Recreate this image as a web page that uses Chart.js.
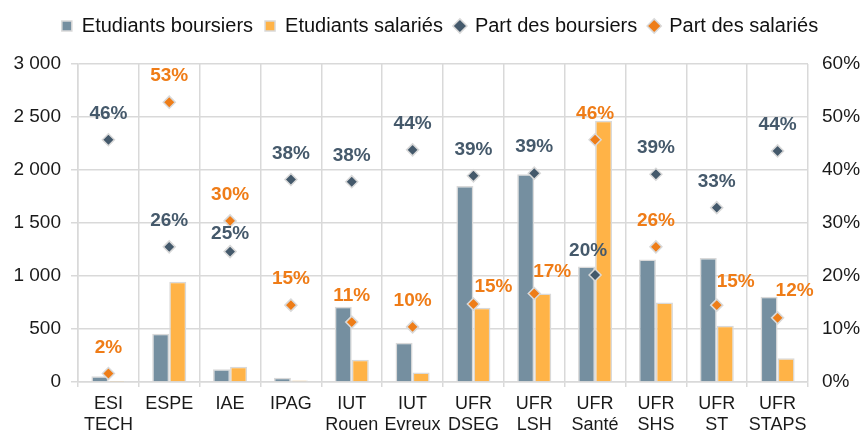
<!DOCTYPE html>
<html>
<head>
<meta charset="utf-8">
<script src="https://cdn.jsdelivr.net/npm/chart.js@4.4.0/dist/chart.umd.min.js"></script>
<style>
  html, body { margin: 0; padding: 0; background: #fff; }
  #wrap { width: 863px; height: 431px; }
</style>
</head>
<body>
<div id="wrap"><canvas id="graph"></canvas></div>
<script>
// values
const categories = [['ESI', 'TECH'], 'ESPE', 'IAE', 'IPAG', ['IUT', 'Rouen'], ['IUT', 'Evreux'],
    ['UFR', 'DSEG'], ['UFR', 'LSH'], ['UFR', 'Santé'], ['UFR', 'SHS'], ['UFR', 'ST'], ['UFR', 'STAPS']];
const boursiers = [55, 455, 120, 40, 710, 370, 1850, 1960, 1090, 1155, 1170, 805];
const salaries = [2, 945, 145, 15, 210, 90, 700, 835, 2465, 750, 530, 225];
const partBoursiers = [45.7, 25.5, 24.6, 38.2, 37.8, 43.8, 38.9, 39.4, 20.2, 39.2, 32.9, 43.6];
const partSalaries = [1.6, 52.8, 30.4, 14.5, 11.3, 10.4, 14.7, 16.7, 45.7, 25.5, 14.5, 12.1];
const countTicks = [0, 500, 1000, 1500, 2000, 2500, 3000];
const pctTicks = [0, 10, 20, 30, 40, 50, 60];

const gridColor = '#d9d9d9';
const textColor = '#1a1a1a';

// labels that were moved by hand in the original (dataset index -> point index -> [dx, dy])
const labelNudge = {
    2: { 2: [0, 8], 8: [-7, 2] },
    3: { 6: [20, 9], 7: [18, 4], 10: [19, 3], 11: [17, -1] }
};

Chart.defaults.font.family = '"Liberation Sans", Arial, sans-serif';
Chart.defaults.color = textColor;

const pointLabels = {
    id: 'pointLabels',
    afterDatasetsDraw(chart) {
        const ctx = chart.ctx;
        ctx.save();
        ctx.font = 'bold 19px "Liberation Sans", Arial, sans-serif';
        ctx.textAlign = 'center';
        ctx.textBaseline = 'middle';
        chart.data.datasets.forEach((ds, i) => {
            if (ds.type !== 'line') return;
            const nudge = labelNudge[i] || {};
            ctx.fillStyle = ds.labelColor;
            chart.getDatasetMeta(i).data.forEach((pt, j) => {
                const d = nudge[j] || [0, 0];
                ctx.fillText(Math.round(ds.data[j]) + '%', pt.x + d[0], pt.y - 26 + d[1]);
            });
        });
        ctx.restore();
    }
};

// legend box: taller so the plot starts lower, and nudged right like the original
const legendBox = {
    id: 'legendBox',
    beforeLayout(chart) {
        const legend = chart.legend;
        if (!legend || legend._fixed) return;
        const fit = legend.fit;
        legend.fit = function () { fit.call(this); this.height = 60; };
        legend._fixed = true;
    },
    afterLayout(chart) {
        chart.legend.left = 17;
    }
};

function thousands(v) {
    return String(v).replace(/\B(?=(\d{3})+(?!\d))/g, ' ');
}

new Chart('graph', {
    type: 'bar',
    data: {
        labels: categories,
        datasets: [{
            label: 'Etudiants boursiers',
            data: boursiers,
            backgroundColor: '#758fa0',
            borderColor: gridColor,
            borderWidth: 1.5,
            pointStyle: 'rect',
            categoryPercentage: 0.56,
            barPercentage: 1,
            order: 1
        }, {
            label: 'Etudiants salariés',
            data: salaries,
            backgroundColor: '#ffb347',
            borderColor: gridColor,
            borderWidth: 1.5,
            pointStyle: 'rect',
            categoryPercentage: 0.56,
            barPercentage: 1,
            order: 1
        }, {
            type: 'line',
            label: 'Part des boursiers',
            data: partBoursiers,
            yAxisID: 'y2',
            showLine: false,
            pointStyle: 'rectRot',
            pointRadius: 6,
            pointBorderWidth: 1.5,
            pointBackgroundColor: '#44596b',
            pointBorderColor: gridColor,
            backgroundColor: '#44596b',
            borderColor: gridColor,
            labelColor: '#45596b',
            order: 0
        }, {
            type: 'line',
            label: 'Part des salariés',
            data: partSalaries,
            yAxisID: 'y2',
            showLine: false,
            pointStyle: 'rectRot',
            pointRadius: 6,
            pointBorderWidth: 1.5,
            pointBackgroundColor: '#ee7d18',
            pointBorderColor: gridColor,
            backgroundColor: '#ee7d18',
            borderColor: gridColor,
            labelColor: '#ef7c17',
            order: 0
        }]
    },
    options: {
        responsive: true,
        maintainAspectRatio: false,
        animation: false,
        layout: { padding: { left: 0, top: 4, right: 0, bottom: 0 } },
        plugins: {
            legend: {
                position: 'top',
                labels: {
                    usePointStyle: true,
                    boxWidth: 10,
                    boxHeight: 10,
                    padding: 12,
                    color: '#111',
                    font: { size: 20 },
                    sort: (a, b) => a.datasetIndex - b.datasetIndex
                }
            },
            tooltip: { enabled: false }
        },
        scales: {
            x: {
                grid: { color: gridColor, lineWidth: 1.5, tickLength: 5, offset: true },
                border: { color: gridColor, width: 1.5 },
                ticks: {
                    color: textColor,
                    font: { size: 18, lineHeight: 1.15 },
                    padding: 7,
                    maxRotation: 0,
                    autoSkip: false
                },
                afterFit(s) { s.height = 49; }
            },
            y: {
                position: 'left',
                min: 0,
                max: 3000,
                grid: { color: gridColor, lineWidth: 1.5, tickLength: 7 },
                border: { color: gridColor, width: 1.5 },
                ticks: {
                    color: textColor,
                    font: { size: 19 },
                    padding: 10,
                    callback: v => thousands(v)
                },
                afterBuildTicks(s) { s.ticks = countTicks.map(v => ({ value: v })); },
                afterFit(s) { s.width = 78; }
            },
            y2: {
                position: 'right',
                min: 0,
                max: 60,
                grid: { display: false, drawTicks: false },
                border: { display: false },
                ticks: {
                    color: textColor,
                    font: { size: 19 },
                    padding: 14,
                    callback: v => v + '%'
                },
                afterBuildTicks(s) { s.ticks = pctTicks.map(v => ({ value: v })); },
                afterFit(s) { s.width = 55; }
            }
        }
    },
    plugins: [pointLabels, legendBox]
});
</script>
</body>
</html>
